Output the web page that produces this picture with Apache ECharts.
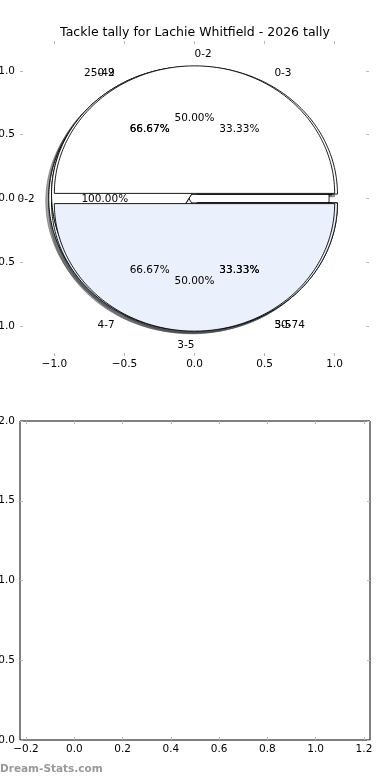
<!DOCTYPE html>
<html><head><meta charset="utf-8">
<script src="https://cdn.jsdelivr.net/npm/echarts@6/dist/echarts.min.js"></script>
<style>html,body{margin:0;padding:0;background:#fff}#c{width:390px;height:780px}</style>
</head><body><div id="c"></div>
<script>
const chartTitle = "Tackle tally for Lachie Whitfield - 2026 tally";
const pie1Labels = ["0-2"];
const pie1Values = [1];
const pie2Labels = ["0-3", "4-7"];
const pie2Values = [1, 2];
const pie3Labels = ["25-49", "50-74"];
const pie3Values = [2, 1];
const pie4Labels = ["0-2", "3-5"];
const pie4Values = [2, 1];
const pie5Labels = ["0-2", "3-5"];
const pie5Values = [1, 1];
const topXTicks = [-1.0, -0.5, 0.0, 0.5, 1.0];
const topYTicks = [-1.0, -0.5, 0.0, 0.5, 1.0];
const bottomXTicks = [-0.2, 0.0, 0.2, 0.4, 0.6, 0.8, 1.0, 1.2];
const bottomYTicks = [0.0, 0.5, 1.0, 1.5, 2.0];
const footerText = "Dream-Stats.com";

const pies = [
  { labels: pie1Labels, values: pie1Values },
  { labels: pie2Labels, values: pie2Values },
  { labels: pie3Labels, values: pie3Values },
  { labels: pie4Labels, values: pie4Values },
  { labels: pie5Labels, values: pie5Values }
];
const sliceColors = [[255, 255, 255], [234, 240, 252]];
const EXPLODE = 0.04, LABEL_R = 1.1, PCT_R = 0.6, SHADOW = 0.021;
const FONT = "DejaVu Sans";

function geom(pie, i) {
  const tot = pie.values.reduce((a, b) => a + b, 0);
  let before = 0;
  for (let k = 0; k < i; k++) before += pie.values[k];
  const start = before / tot * 360;
  const end = (before + pie.values[i]) / tot * 360;
  const mid = (start + end) / 2 * Math.PI / 180;
  return { start, end, mid, frac: pie.values[i] / tot,
    cx: EXPLODE * Math.cos(mid), cy: EXPLODE * Math.sin(mid) };
}
function wedgePoints(api, g, dx, dy) {
  const pts = [];
  const full = (g.end - g.start) >= 359.999;
  if (!full) pts.push(api.coord([g.cx + dx, g.cy + dy]));
  const n = Math.max(4, Math.ceil(g.end - g.start));
  for (let k = 0; k <= n; k++) {
    const a = (g.start + (g.end - g.start) * k / n) * Math.PI / 180;
    pts.push(api.coord([g.cx + dx + Math.cos(a), g.cy + dy + Math.sin(a)]));
  }
  return pts;
}
const flat = [];
pies.forEach((p, pi) => p.values.forEach((v, si) => flat.push([pi, si])));

const fmtTick = (v) => (v < 0 ? "\u2212" : "") + Math.abs(v).toFixed(1);

const series = [];
series.push({
  type: 'custom', xAxisIndex: 0, yAxisIndex: 0, z: 1, silent: true,
  data: flat.map((f, k) => [k]),
  renderItem: function (params, api) {
    const f = flat[params.dataIndex];
    const g = geom(pies[f[0]], f[1]);
    const c = sliceColors[f[1] % sliceColors.length].map(x => Math.round(x * 0.3));
    const col = 'rgba(' + c.join(',') + ',0.5)';
    return { type: 'polygon', shape: { points: wedgePoints(api, g, -SHADOW, -SHADOW) },
      style: { fill: col, stroke: col, lineWidth: 1 } };
  }
});
pies.forEach((p, pi) => {
  series.push({
    type: 'custom', xAxisIndex: 0, yAxisIndex: 0, z: 2 + pi, silent: true,
    data: p.values.map((v, i) => [i]),
    renderItem: function (params, api) {
      const si = params.dataIndex;
      const g = geom(p, si);
      const c = sliceColors[si % sliceColors.length];
      return { type: 'polygon', shape: { points: wedgePoints(api, g, 0, 0) },
        style: { fill: 'rgb(' + c.join(',') + ')', stroke: '#000', lineWidth: 0.9 } };
    }
  });
});
series.push({
  type: 'custom', xAxisIndex: 0, yAxisIndex: 0, z: 20, silent: true,
  data: flat.map((f, k) => [k]),
  renderItem: function (params, api) {
    const f = flat[params.dataIndex];
    const p = pies[f[0]];
    const g = geom(p, f[1]);
    const lx = g.cx + LABEL_R * Math.cos(g.mid), ly = g.cy + LABEL_R * Math.sin(g.mid);
    const px = g.cx + PCT_R * Math.cos(g.mid), py = g.cy + PCT_R * Math.sin(g.mid);
    const lp = api.coord([lx, ly]), pp = api.coord([px, py]);
    return { type: 'group', children: [
      { type: 'text', x: lp[0], y: lp[1] + 1, style: { text: p.labels[f[1]], fill: '#000',
        font: '10.5px "' + FONT + '"', align: lx > 0 ? 'left' : 'right', verticalAlign: 'middle' } },
      { type: 'text', x: pp[0], y: pp[1] + 1, style: { text: (g.frac * 100).toFixed(2) + '%', fill: '#000',
        font: '10.5px "' + FONT + '"', align: 'center', verticalAlign: 'middle' } }
    ] };
  }
});

const TICK_COLOR = '#b8b8b8';
function mkAxis(gridIndex, position, min, max, ticks, withLabels, margin) {
  return {
    type: 'value', gridIndex, position, min, max,
    axisLine: { show: false, onZero: false },
    splitLine: { show: false },
    axisTick: { show: true, inside: true, length: 3, customValues: ticks, lineStyle: { color: TICK_COLOR, width: 1 } },
    axisLabel: { show: withLabels, margin: margin, customValues: ticks, formatter: fmtTick,
      color: '#000', fontFamily: FONT, fontSize: 10.5 }
  };
}

const chart = echarts.init(document.getElementById('c'), null, { renderer: 'canvas' });
chart.setOption({
  animation: false,
  backgroundColor: '#fff',
  title: { text: chartTitle, left: 'center', top: 21,
    textStyle: { fontFamily: FONT, fontSize: 12.5, fontWeight: 'normal', color: '#000' } },
  grid: [
    { left: 20, top: 41, width: 349, height: 315, show: false, outerBoundsMode: 'none', containLabel: false },
    { left: 20, top: 421, width: 350, height: 319, show: true, borderColor: '#000', borderWidth: 1,
      backgroundColor: 'transparent', outerBoundsMode: 'none', containLabel: false }
  ],
  xAxis: [
    mkAxis(0, 'bottom', -1.245, 1.245, topXTicks, true, 3),
    mkAxis(0, 'top', -1.245, 1.245, topXTicks, false, 4),
    mkAxis(1, 'bottom', -0.225, 1.225, bottomXTicks, true, 4),
    mkAxis(1, 'top', -0.225, 1.225, bottomXTicks, false, 4)
  ],
  yAxis: [
    mkAxis(0, 'left', -1.235, 1.235, topYTicks, true, 5),
    mkAxis(0, 'right', -1.235, 1.235, topYTicks, false, 5),
    mkAxis(1, 'left', 0, 2, bottomYTicks, true, 5),
    mkAxis(1, 'right', 0, 2, bottomYTicks, false, 5)
  ],
  graphic: [
    { type: 'text', left: 0, top: 764, silent: true,
      style: { text: footerText, fill: '#999', font: 'bold 10.5px "' + FONT + '"' } }
  ],
  series: series
});
</script>
</body></html>
